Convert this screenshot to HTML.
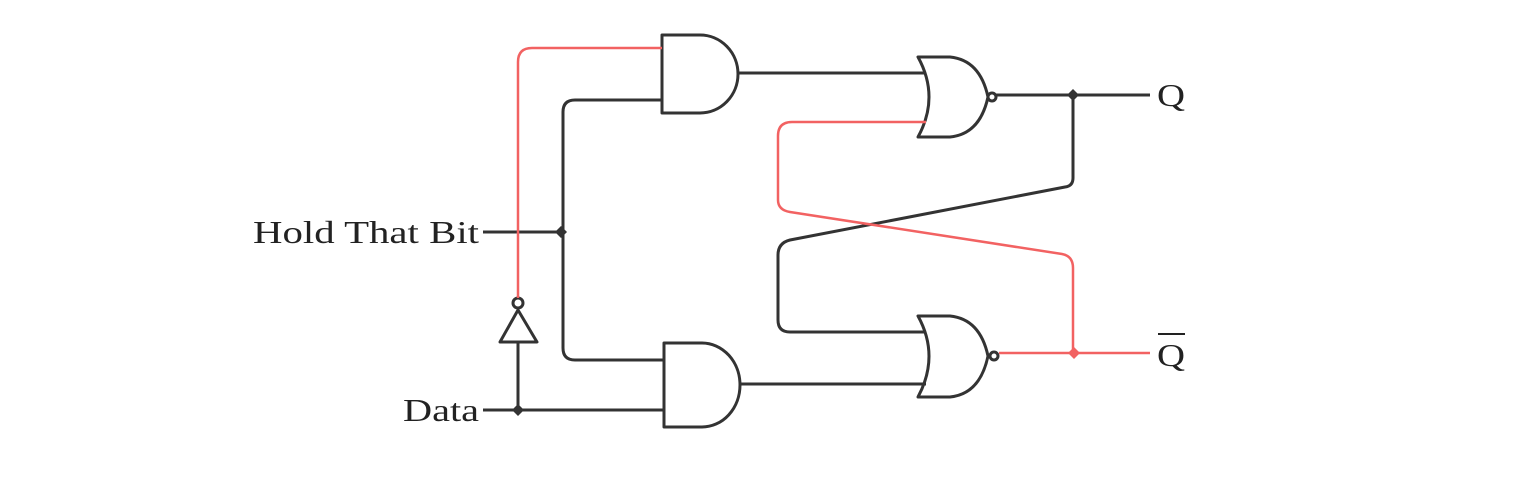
<!DOCTYPE html>
<html><head><meta charset="utf-8"><style>
html,body{margin:0;padding:0;background:#fff;}
svg{display:block;}
text{font-family:"Liberation Serif",serif;fill:#222;}
</style></head><body>
<svg width="1537" height="480" viewBox="0 0 1537 480">
<g fill="none" stroke="#333" stroke-width="3" stroke-linejoin="round">
  <path d="M662,35 H700 A38,39 0 0 1 700,113 H662 Z"/>
  <path d="M664,343 H702 A38,42 0 0 1 702,427 H664 Z"/>
  <path d="M918,57 H950 Q980,60 988,97 Q980,134 950,137 H918 Q940,97 918,57 Z"/>
  <circle cx="992" cy="97" r="4"/>
  <path d="M918,316 H950 Q980,319 988,356 Q980,394 950,397 H918 Q940,356 918,316 Z"/>
  <circle cx="994" cy="356" r="4"/>
  <path d="M518,310 L537,342 H500 Z"/>
  <circle cx="518" cy="303" r="5" stroke="#333"/>
  <path d="M738,73 H925"/>
  <path d="M740,384 H926"/>
  <path d="M996,95 H1150"/>
  <path d="M1073,95 V178 Q1073,186 1065,187 L790,240 Q778,243 778,255 V320 Q778,332 790,332 H926"/>
  <path d="M483,232 H561"/>
  <path d="M662,100 H575 Q563,100 563,112 V348 Q563,360 575,360 H664"/>
  <path d="M483,410 H664"/>
  <path d="M518,410 V342"/>
</g>
<g fill="none" stroke="#f26262" stroke-width="2.5" stroke-linejoin="round">
  <path d="M518,298 V62 Q518,48 532,48 H662"/>
  <path d="M926,122 H792 Q778,122 778,136 V200 Q778,210 790,212 L1062,254 Q1073,256 1073,268 V352"/>
  <path d="M999,353 H1150"/>
</g>
<g fill="#333">
  <path d="M561,226 L567,232 L561,238 L555,232 Z"/>
  <path d="M518,404 L524,410 L518,416 L512,410 Z"/>
  <path d="M1073,89 L1079,95 L1073,101 L1067,95 Z"/>
  <path d="M1074,347 L1080,353 L1074,359 L1068,353 Z" fill="#f26262"/>
</g>
<text x="253" y="243" font-size="32" textLength="226" lengthAdjust="spacingAndGlyphs">Hold That Bit</text>
<text x="403" y="421" font-size="32" textLength="76" lengthAdjust="spacingAndGlyphs">Data</text>
<text x="1157" y="106" font-size="32" textLength="28" lengthAdjust="spacingAndGlyphs">Q</text>
<text x="1157" y="366" font-size="32" textLength="28" lengthAdjust="spacingAndGlyphs">Q</text>
<line x1="1158" y1="334" x2="1185" y2="334" stroke="#222" stroke-width="2"/>
</svg>
</body></html>
